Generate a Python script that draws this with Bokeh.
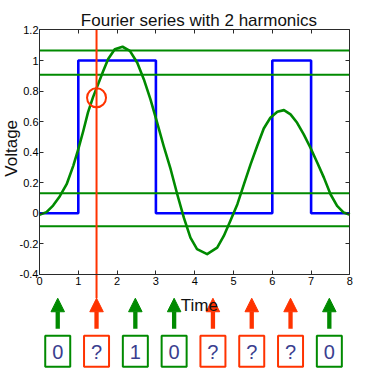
from bokeh.plotting import figure
from bokeh.models import (Range1d, LinearAxis, FixedTicker, CustomJSTickFormatter,
                          Arrow, NormalHead, ColumnDataSource, Label)
from bokeh.core.properties import value
from bokeh.embed import file_html
from bokeh.resources import INLINE

# ---- data ----
bit_edges = [0, 1, 2, 3, 4, 5, 6, 7, 8]
bits = [0, 1, 1, 0, 0, 0, 1, 0]

fourier_t = [0.0, 0.18, 0.35, 0.52, 0.70, 0.87, 1.0, 1.13, 1.25, 1.38, 1.51, 1.64,
             1.77, 1.94, 2.14, 2.33, 2.52, 2.69, 2.86, 3.03, 3.20, 3.38, 3.55, 3.72,
             3.89, 4.06, 4.32, 4.58, 4.75, 4.92, 5.10, 5.27, 5.44, 5.61, 5.78, 5.95,
             6.13, 6.30, 6.47, 6.64, 6.81, 6.98, 7.16, 7.33, 7.50, 7.67, 7.84, 8.0]
fourier_v = [-0.01, 0.007, 0.05, 0.11, 0.19, 0.31, 0.42, 0.54, 0.66, 0.76, 0.845, 0.93,
             1.01, 1.074, 1.09, 1.063, 0.985, 0.876, 0.745, 0.595, 0.44, 0.288, 0.124, -0.029,
             -0.16, -0.235, -0.268, -0.225, -0.149, -0.05, 0.059, 0.19, 0.32, 0.44, 0.555, 0.625,
             0.664, 0.675, 0.647, 0.592, 0.516, 0.43, 0.33, 0.233, 0.124, 0.048, 0.004, -0.01]

thresholds = [1.066, 0.906, 0.131, -0.085]

sample_t = [0.47, 1.47, 2.47, 3.47, 4.47, 5.47, 6.47, 7.47]
sample_labels = ["0", "?", "1", "0", "?", "?", "?", "0"]
cursor_t = 1.47
cursor_v = 0.756

x_ticks = [0, 1, 2, 3, 4, 5, 6, 7, 8]
y_ticks = [-0.4, -0.2, 0, 0.2, 0.4, 0.6, 0.8, 1, 1.2]

GREEN = "#008a00"
RED = "#ff3300"
BLUE = "#0000ff"
FONT = "Liberation Sans"

# ---- layout (frame fills the whole canvas; axes drawn at fixed locations) ----
px0, ppu_x = 39.0, 38.8
py0, ppu_y = 212.7, 152.7
W, H = 373, 391

p = figure(width=W, height=H, output_backend="svg", toolbar_location=None,
           x_axis_location=None, y_axis_location=None, title=None,
           x_range=Range1d(-px0 / ppu_x, (W - px0) / ppu_x),
           y_range=Range1d((py0 - H) / ppu_y, py0 / ppu_y),
           min_border=0, outline_line_color=None)
p.grid.visible = False

AX_COLOR = "#2a2a2a"

def make_axis(cls_loc, fixed, bounds, ticks, labels=True):
    ax = LinearAxis(fixed_location=fixed, bounds=bounds,
                    ticker=FixedTicker(ticks=ticks, minor_ticks=[]),
                    major_tick_in=4, major_tick_out=0,
                    minor_tick_in=0, minor_tick_out=0,
                    axis_line_color=AX_COLOR, axis_line_width=1,
                    major_tick_line_color=AX_COLOR,
                    major_label_text_font=FONT,
                    major_label_text_font_size="11px",
                    major_label_text_color="black")
    if not labels:
        ax.formatter = CustomJSTickFormatter(code="return ''")
    p.add_layout(ax, cls_loc)
    return ax

bx = make_axis("below", -0.4, (0, 8), x_ticks)
bx.major_label_standoff = 3
ly = make_axis("left", 0, (-0.4, 1.2), y_ticks)
ly.formatter = CustomJSTickFormatter(code="return String(Math.round(tick*10)/10)")
ly.major_label_standoff = 1
make_axis("above", 1.2, (0, 8), x_ticks, labels=False)
make_axis("right", 8, (-0.4, 1.2), y_ticks, labels=False)

# square wave
p.step(x=bit_edges, y=bits + [bits[-1]], mode="after", line_color=BLUE, line_width=2.6)

# fourier approximation
p.line(fourier_t, fourier_v, line_color=GREEN, line_width=2.6, line_join="round")

# threshold lines
p.segment(x0=[x_ticks[0]] * len(thresholds), x1=[x_ticks[-1]] * len(thresholds),
          y0=thresholds, y1=thresholds, line_color=GREEN, line_width=2)

# arrows and boxes
arrow_base, arrow_tip = -0.757, -0.557
box_y = -0.904

is_known = [lab != "?" for lab in sample_labels]
for known, col in ((True, GREEN), (False, RED)):
    xs = [t for t, k in zip(sample_t, is_known) if k == known]
    src = ColumnDataSource(dict(x=xs, y0=[arrow_base] * len(xs), y1=[arrow_tip] * len(xs)))
    p.add_layout(Arrow(end=NormalHead(size=13.5, fill_color=col, line_color=col, line_width=1),
                       x_start="x", y_start="y0", x_end="x", y_end="y1", source=src,
                       line_color=col, line_width=4.3))

box_colors = [GREEN if k else RED for k in is_known]
p.rect(x=sample_t, y=[box_y] * len(sample_t), width=25, height=31,
       width_units="screen", height_units="screen",
       fill_color=None, line_color=box_colors, line_width=2)
p.text(x=sample_t, y=[box_y - 0.006] * len(sample_t), text=sample_labels,
       text_align="center", text_baseline="middle", text_color="#3a3e8f",
       text_font=value(FONT), text_font_size="20px")

# cursor line and circle
p.segment(x0=[cursor_t], x1=[cursor_t], y0=[y_ticks[-1]], y1=[arrow_tip],
          line_color=RED, line_width=2)
p.scatter([cursor_t], [cursor_v], marker="circle", size=19, fill_color=None,
          line_color=RED, line_width=2)

# texts
p.text(x=[4.11], y=[1.265], text=["Fourier series with 2 harmonics"],
       text_align="center", text_baseline="alphabetic", text_color="#111111",
       text_font=value(FONT), text_font_size="17px")
p.add_layout(Label(x=4.12, y=-0.604, text="Time", text_align="center",
                   text_baseline="alphabetic", text_color="#111111",
                   text_font=FONT, text_font_size="17px"))
p.text(x=[-0.72], y=[0.425], text=["Voltage"], angle=1.5708, text_align="center",
       text_baseline="middle", text_color="#111111",
       text_font=value(FONT), text_font_size="17px")

open("out.html", "w").write(file_html(p, INLINE))
